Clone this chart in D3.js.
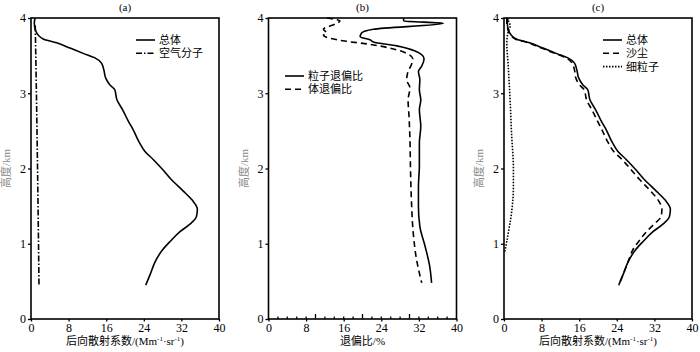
<!DOCTYPE html>
<html>
<head>
<meta charset="utf-8">
<script src="https://cdn.jsdelivr.net/npm/d3@7"></script>
<style>
  body { margin: 0; background: #fff; }
  text { font-family: "Liberation Serif", "Times New Roman", "DejaVu Serif", "Noto Sans CJK SC", serif; }
</style>
</head>
<body>
<div id="chart"></div>
<script>
// DATA
var xTicks = [0, 8, 16, 24, 32, 40]
var yTicks = [0, 1, 2, 3, 4]

// (a) / (c) total backscatter: [value, height]
var totalBsc = [[0.85,4.0],[0.7,3.93],[1.06,3.82],[2.6,3.72],[5.45,3.67],[8.3,3.60],[11.1,3.53],[13.6,3.47],
  [15.0,3.40],[15.5,3.31],[15.9,3.20],[16.8,3.11],[17.8,3.05],[18.3,2.91],[19.5,2.78],[20.7,2.63],[21.7,2.52],
  [23.1,2.34],[24.2,2.23],[26.0,2.12],[28.1,1.98],[29.9,1.85],[32.4,1.70],[34.3,1.58],[35.4,1.46],[35.2,1.36],
  [33.8,1.26],[31.7,1.16],[29.6,1.03],[28.0,0.92],[26.4,0.76],[25.4,0.60],[24.4,0.45]]
var molecularBsc = [[0.9,3.9],[1.1,3.2],[1.3,2.4],[1.5,1.5],[1.7,0.46]]

// (b) depolarization ratio (%)
var particleDepol = [[28.7,4.0],[28.8,3.96],[37.2,3.93],[22.3,3.85],[19.8,3.80],[19.5,3.75],[21.6,3.71],[22.3,3.68],
  [27.3,3.63],[31.2,3.56],[33.1,3.46],[32.6,3.36],[31.9,3.29],[32.2,3.18],[32.1,3.05],[32.4,2.91],[32.1,2.78],
  [32.4,2.56],[32.1,2.34],[32.1,2.03],[31.9,1.76],[31.9,1.50],[32.2,1.23],[33.3,0.97],[34.3,0.70],[34.7,0.48]]
var volumeDepol = [[12.4,4.0],[15.2,3.96],[14.2,3.92],[11.7,3.85],[12.4,3.80],[11.7,3.77],[13.1,3.73],[16.6,3.69],
  [21.6,3.65],[25.8,3.60],[29.4,3.53],[30.7,3.46],[30.4,3.38],[29.7,3.29],[29.4,3.18],[30.1,3.07],[29.7,2.91],
  [29.9,2.69],[30.1,2.38],[30.2,2.03],[30.4,1.59],[30.8,1.14],[31.5,0.79],[32.6,0.48]]

// (c) dust and fine particle backscatter
var dustBsc = [[0.6,4.0],[0.6,3.93],[1.0,3.82],[2.4,3.72],[5.2,3.67],[8.0,3.60],[10.8,3.53],[13.2,3.47],
  [14.5,3.40],[15.0,3.31],[15.3,3.20],[16.1,3.11],[17.0,3.05],[17.6,2.91],[18.7,2.78],[19.9,2.63],[20.8,2.52],
  [22.2,2.34],[23.3,2.23],[25.1,2.12],[27.1,1.98],[28.9,1.85],[31.2,1.70],[32.8,1.58],[33.6,1.46],[33.4,1.36],
  [31.9,1.26],[30.3,1.16],[28.9,1.05],[27.6,0.94],[26.4,0.76],[25.4,0.60],[24.4,0.45]]
var fineBsc = [[0.6,4.0],[1.3,3.89],[0.9,3.82],[0.6,3.67],[0.9,3.36],[1.3,2.91],[1.6,2.47],[2.0,2.0],[2.0,1.76],
  [1.6,1.41],[0.9,1.14],[0.2,0.9]]

// LAYOUT
var width = 700, height = 352
var svg = d3.select('#chart').append('svg')
  .attr('width', width)
  .attr('height', height)

var plotTop = 18, plotBottom = 319, pw = 188

var panels = [
  {left: 31, label: '(a)', xtitle: 'bsc', minor: false,
   series: [{data: totalBsc, dash: null, name: '总体'},
            {data: molecularBsc, dash: '6,2,1.5,2', name: '空气分子'}],
   legend: {x: 136, y: 40}},
  {left: 268.5, label: '(b)', xtitle: 'dep', minor: true,
   series: [{data: particleDepol, dash: null, name: '粒子退偏比'},
            {data: volumeDepol, dash: '6,4', name: '体退偏比'}],
   legend: {x: 285, y: 76}},
  {left: 504, label: '(c)', xtitle: 'bsc', minor: false,
   series: [{data: totalBsc, dash: null, name: '总体'},
            {data: dustBsc, dash: '6,4', name: '沙尘'},
            {data: fineBsc, dash: '1.5,1.5', name: '细粒子'}],
   legend: {x: 603, y: 40}}
]

var serif = '"Liberation Serif", "Times New Roman", "DejaVu Serif", serif'

function drawPanel(p) {
  var x = d3.scaleLinear().domain([0, 40]).range([p.left, p.left + pw])
  var y = d3.scaleLinear().domain([0, 4]).range([plotBottom, plotTop])
  var g = svg.append('g')

  var line = d3.line()
    .x(d => x(d[0]))
    .y(d => y(d[1]))
    .curve(d3.curveMonotoneY)

  p.series.forEach(function(s) {
    g.append('path')
      .attr('d', line(s.data))
      .style('fill', 'none')
      .style('stroke', '#000')
      .style('stroke-width', 1.6)
      .style('stroke-dasharray', s.dash)
  })

  // frame
  g.append('rect')
    .attr('x', x(0)).attr('y', y(4))
    .attr('width', x(40) - x(0)).attr('height', y(0) - y(4))
    .style('fill', 'none').style('stroke', '#000').style('stroke-width', 1.6)

  var xAxis = g.append('g')
    .attr('transform', 'translate(' + [0, plotBottom] + ')')
    .call(d3.axisBottom(x).tickValues(xTicks).tickSize(2.5).tickPadding(2))
  var yAxis = g.append('g')
    .attr('transform', 'translate(' + [p.left, 0] + ')')
    .call(d3.axisLeft(y).tickValues(yTicks).tickFormat(d3.format('d')).tickSize(3).tickPadding(2))

  ;[xAxis, yAxis].forEach(function(a) {
    a.attr('font-family', null)
    a.select('.domain').remove()
    a.selectAll('line').style('stroke-width', 1.3)
    a.selectAll('text').style('font-size', '12px')
      .style('font-family', serif).style('fill', '#000')
  })

  if (p.minor) {
    var minors = d3.range(2, 40, 2)
    g.selectAll('.minor').data(minors).enter().append('line')
      .attr('x1', d => x(d)).attr('x2', d => x(d))
      .attr('y1', plotBottom).attr('y2', d => plotBottom - (d % 10 === 0 ? 5 : 2.5))
      .style('stroke', '#000').style('stroke-width', 1.3)
  }

  g.append('text')
    .attr('x', p.left + pw / 2).attr('y', 11)
    .style('text-anchor', 'middle').style('font-size', '11px')
    .text(p.label)

  g.append('text')
    .attr('transform', 'translate(' + [p.left - 21, (plotTop + plotBottom) / 2] + ') rotate(-90)')
    .style('text-anchor', 'middle').style('font-size', '11px').style('fill', '#8a8a8a')
    .text('高度/km')

  var xt = g.append('text')
    .attr('x', p.left + pw / 2).attr('y', 345)
    .style('text-anchor', 'middle').style('font-size', '11px')
  if (p.xtitle === 'bsc') {
    xt.append('tspan').text('后向散射系数/(Mm')
    xt.append('tspan').attr('dy', -4).style('font-size', '7px').text('-1')
    xt.append('tspan').attr('dy', 4).text('·sr')
    xt.append('tspan').attr('dy', -4).style('font-size', '7px').text('-1')
    xt.append('tspan').attr('dy', 4).text(')')
  } else {
    xt.text('退偏比/%')
  }

  // legend
  p.series.forEach(function(s, i) {
    var ly = p.legend.y + i * 13.3
    g.append('line')
      .attr('x1', p.legend.x).attr('x2', p.legend.x + 19)
      .attr('y1', ly).attr('y2', ly)
      .style('stroke', '#000').style('stroke-width', 1.6)
      .style('stroke-dasharray', s.dash)
    g.append('text')
      .attr('x', p.legend.x + 23).attr('y', ly + 4)
      .style('font-size', '11px')
      .text(s.name)
  })
}

panels.forEach(drawPanel)
</script>
</body>
</html>
